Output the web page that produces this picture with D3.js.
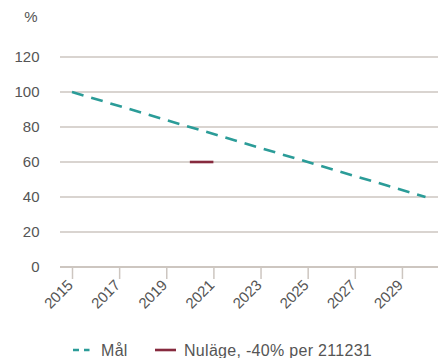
<!DOCTYPE html>
<html>
<head>
<meta charset="utf-8">
<script src="https://cdn.jsdelivr.net/npm/d3@7"></script>
<style>
  html, body { margin: 0; padding: 0; background: #fff; }
  svg { display: block; font-family: "Liberation Sans", Arial, sans-serif; }
</style>
</head>
<body>
<svg id="chart" width="438" height="358"></svg>
<script>
// Target path (Mål) and current status (Nuläge)
const goalYears = [2015, 2030];
const goalValues = [100, 40];
const statusYears = [2020, 2021];
const statusValues = [60, 60];
const xTicks = [2015, 2017, 2019, 2021, 2023, 2025, 2027, 2029];
const yTicks = [0, 20, 40, 60, 80, 100, 120];
const legendLabels = ["Mål", "Nuläge, -40% per 211231"];

const teal = "#2b9c98";
const wine = "#862a3e";
const grid = "#cdc6c0";
const textCol = "#555";

const svg = d3.select("#chart");

const x = d3.scaleLinear().domain([2015, 2030]).range([72, 425.5]);
const y = d3.scaleLinear().domain([0, 120]).range([267, 57]);
const gridLeft = 60, gridRight = 438;

// Horizontal gridlines
svg.append("g").selectAll("line")
  .data(yTicks.filter(d => d !== 0))
  .join("line")
  .attr("x1", gridLeft).attr("x2", gridRight)
  .attr("y1", d => y(d)).attr("y2", d => y(d))
  .attr("stroke", grid).attr("stroke-width", 1.5);

// Y axis labels
svg.append("g").selectAll("text")
  .data(yTicks)
  .join("text")
  .attr("x", 39.5).attr("y", d => y(d))
  .attr("dy", "0.35em")
  .attr("text-anchor", "end")
  .attr("fill", textCol)
  .attr("font-size", 15)
  .text(d => d);

svg.append("text")
  .attr("x", 31).attr("y", 22)
  .attr("text-anchor", "middle")
  .attr("fill", textCol)
  .attr("font-size", 15)
  .text("%");

// X axis
const xAxis = d3.axisBottom(x)
  .tickValues(xTicks)
  .tickFormat(d3.format("d"))
  .tickSize(12)
  .tickSizeOuter(0);

const gx = svg.append("g")
  .attr("transform", `translate(0,${y(0)})`)
  .call(xAxis);
gx.select(".domain").remove();
gx.selectAll(".tick line").attr("stroke", grid).attr("stroke-width", 1.5);
gx.selectAll(".tick text")
  .attr("fill", textCol)
  .attr("font-size", 15)
  .attr("font-family", "Liberation Sans, Arial, sans-serif")
  .attr("text-anchor", "end")
  .attr("dy", null)
  .attr("y", 0)
  .attr("transform", "translate(1.5,19) rotate(-45)");

// Baseline
svg.append("line")
  .attr("x1", gridLeft).attr("x2", gridRight)
  .attr("y1", y(0)).attr("y2", y(0))
  .attr("stroke", grid).attr("stroke-width", 2);

// Goal line (dashed)
const goal = goalYears.map((yr, i) => [yr, goalValues[i]]);
svg.append("path")
  .datum(goal)
  .attr("d", d3.line().x(d => x(d[0])).y(d => y(d[1])))
  .attr("fill", "none")
  .attr("stroke", teal)
  .attr("stroke-width", 2.6)
  .attr("stroke-dasharray", "12,8");

// Current status segment
const status = statusYears.map((yr, i) => [yr, statusValues[i]]);
svg.append("path")
  .datum(status)
  .attr("d", d3.line().x(d => x(d[0])).y(d => y(d[1])))
  .attr("fill", "none")
  .attr("stroke", wine)
  .attr("stroke-width", 2.6);

// Legend
const lg = svg.append("g").attr("transform", "translate(0,350)");
lg.append("line")
  .attr("x1", 73).attr("x2", 89.5).attr("y1", 0).attr("y2", 0)
  .attr("stroke", teal).attr("stroke-width", 2.6)
  .attr("stroke-dasharray", "6,5");
lg.append("text")
  .attr("x", 101).attr("y", 0).attr("dy", "0.35em")
  .attr("fill", textCol).attr("font-size", 16)
  .attr("letter-spacing", 0.3)
  .text(legendLabels[0]);
lg.append("line")
  .attr("x1", 155).attr("x2", 176).attr("y1", 0).attr("y2", 0)
  .attr("stroke", wine).attr("stroke-width", 2.6);
lg.append("text")
  .attr("x", 184).attr("y", 0).attr("dy", "0.35em")
  .attr("fill", textCol).attr("font-size", 16)
  .attr("letter-spacing", 0.3)
  .text(legendLabels[1]);
</script>
</body>
</html>
